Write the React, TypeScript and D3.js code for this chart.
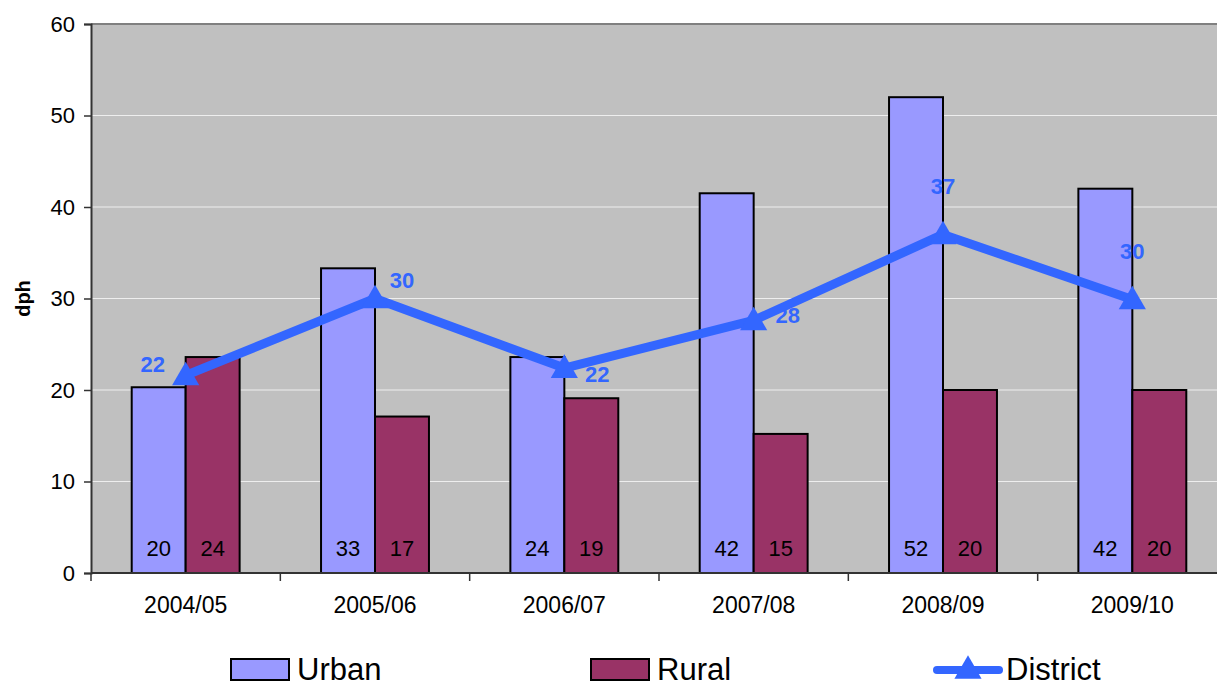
import { useEffect, useRef } from 'react';
import * as d3 from 'd3';

const categories = ['2004/05', '2005/06', '2006/07', '2007/08', '2008/09', '2009/10'];
const urban = [20.3, 33.3, 23.6, 41.5, 52.0, 42.0];
const rural = [23.6, 17.1, 19.1, 15.2, 20.0, 20.0];
const district = [21.6, 30.0, 22.4, 27.6, 37.0, 29.9];
const yTicks = [0, 10, 20, 30, 40, 50, 60];
const seriesNames = ['Urban', 'Rural'];

// where Excel put the District data labels, relative to the point
const districtLabelOffset = [
  [-33, -3], [27, -11], [33, 14], [34, 3], [0, -40], [0, -40],
];

const FONT = 'Liberation Sans, Arial, sans-serif';

const App = () => {
  const svgRef = useRef<SVGSVGElement>(null);

  useEffect(() => {
    const width = 1217;
    const height = 688;
    const margin = { top: 24, right: -10, bottom: 115, left: 91 };

    const svg = d3.select(svgRef.current);
    svg.selectAll('*').remove();
    svg.attr('width', width).attr('height', height);

    const x = d3.scaleBand()
      .domain(categories)
      .range([margin.left, width - margin.right]);

    const xBar = d3.scaleBand()
      .domain(categories)
      .range([margin.left, width - margin.right])
      .paddingInner(0.43)
      .paddingOuter(0.215);

    const xSub = d3.scaleBand()
      .domain(seriesNames)
      .range([0, xBar.bandwidth()]);

    const y = d3.scaleLinear()
      .domain([0, 60])
      .range([height - margin.bottom, margin.top]);

    const color = d3.scaleOrdinal<string, string>()
      .domain(seriesNames)
      .range(['#9999FF', '#993366']);

    // plot background
    svg.append('rect')
      .attr('x', margin.left)
      .attr('y', margin.top)
      .attr('width', width - margin.right - margin.left)
      .attr('height', y(0) - margin.top)
      .attr('fill', '#C0C0C0');

    svg.append('line')
      .attr('x1', margin.left).attr('x2', width)
      .attr('y1', margin.top).attr('y2', margin.top)
      .attr('stroke', '#808080').attr('stroke-width', 2);

    // gridlines
    svg.append('g')
      .selectAll('line')
      .data(yTicks.filter(d => d > 0 && d < 60))
      .join('line')
      .attr('x1', margin.left)
      .attr('x2', width)
      .attr('y1', d => y(d))
      .attr('y2', d => y(d))
      .attr('stroke', '#EEEEEE')
      .attr('stroke-width', 1);

    // bars
    const rows = categories.map((c, i) => ({ c, values: [urban[i], rural[i]] }));
    const groups = svg.append('g')
      .selectAll('g')
      .data(rows)
      .join('g')
      .attr('transform', d => `translate(${xBar(d.c)},0)`);

    groups.selectAll('rect')
      .data(d => d.values.map((v, k) => ({ name: seriesNames[k], v })))
      .join('rect')
      .attr('x', d => xSub(d.name)!)
      .attr('y', d => y(d.v))
      .attr('width', xSub.bandwidth())
      .attr('height', d => y(0) - y(d.v))
      .attr('fill', d => color(d.name))
      .attr('stroke', '#000')
      .attr('stroke-width', 2);

    groups.selectAll('text')
      .data(d => d.values.map((v, k) => ({ name: seriesNames[k], v })))
      .join('text')
      .attr('x', d => xSub(d.name)! + xSub.bandwidth() / 2)
      .attr('y', y(0) - 17)
      .attr('text-anchor', 'middle')
      .attr('font-family', FONT)
      .attr('font-size', 22)
      .attr('fill', '#000')
      .text(d => Math.round(d.v));

    // axes
    const yAxis = svg.append('g')
      .attr('transform', `translate(${margin.left},0)`)
      .call(d3.axisLeft(y).tickValues(yTicks).tickSize(7).tickPadding(9));
    yAxis.select('.domain').attr('stroke', '#333').attr('stroke-width', 2);
    yAxis.selectAll('.tick line').attr('stroke', '#333').attr('stroke-width', 1.5);
    yAxis.selectAll('.tick text')
      .attr('font-family', FONT).attr('font-size', 22).attr('fill', '#000');

    const xAxis = svg.append('g')
      .attr('transform', `translate(0,${y(0)})`)
      .call(d3.axisBottom(x).tickSize(0).tickPadding(24));
    xAxis.select('.domain').remove();
    xAxis.selectAll('.tick text')
      .attr('font-family', FONT).attr('font-size', 23).attr('fill', '#000');

    svg.append('line')
      .attr('x1', margin.left).attr('x2', width)
      .attr('y1', y(0)).attr('y2', y(0))
      .attr('stroke', '#333').attr('stroke-width', 2);

    svg.append('g')
      .selectAll('line')
      .data(categories)
      .join('line')
      .attr('x1', d => x(d)!)
      .attr('x2', d => x(d)!)
      .attr('y1', y(0))
      .attr('y2', y(0) + 8)
      .attr('stroke', '#333')
      .attr('stroke-width', 1.5);

    // y axis title
    svg.append('text')
      .attr('transform', `translate(30,${(y(0) + y(60)) / 2}) rotate(-90)`)
      .attr('text-anchor', 'middle')
      .attr('font-family', FONT)
      .attr('font-weight', 'bold')
      .attr('font-size', 20)
      .text('dph');

    // district line
    const cx = (c: string) => x(c)! + x.bandwidth() / 2;
    const line = d3.line<number>()
      .x((_, i) => cx(categories[i]))
      .y(d => y(d));

    svg.append('path')
      .datum(district)
      .attr('d', line)
      .attr('fill', 'none')
      .attr('stroke', '#3366FF')
      .attr('stroke-width', 9)
      .attr('stroke-linejoin', 'round');

    const tri = d3.symbol().type(d3.symbolTriangle).size(320);
    svg.append('g')
      .selectAll('path')
      .data(district)
      .join('path')
      .attr('d', tri)
      .attr('transform', (d, i) => `translate(${cx(categories[i])},${y(d) + 2})`)
      .attr('fill', '#3366FF');

    svg.append('g')
      .selectAll('text')
      .data(district)
      .join('text')
      .attr('x', (d, i) => cx(categories[i]) + districtLabelOffset[i][0])
      .attr('y', (d, i) => y(d) + districtLabelOffset[i][1])
      .attr('text-anchor', 'middle')
      .attr('font-family', FONT)
      .attr('font-weight', 'bold')
      .attr('font-size', 22)
      .attr('fill', '#3366FF')
      .text(d => Math.round(d));

    // legend
    const legendY = 680;
    const legend = svg.append('g').attr('font-family', FONT).attr('font-size', 31);
    const legendItems = [
      { name: 'Urban', x: 231 },
      { name: 'Rural', x: 591 },
    ];
    legendItems.forEach(it => {
      legend.append('rect')
        .attr('x', it.x).attr('y', legendY - 21)
        .attr('width', 58).attr('height', 21)
        .attr('fill', color(it.name))
        .attr('stroke', '#000').attr('stroke-width', 2);
      legend.append('text')
        .attr('x', it.x + 66).attr('y', legendY)
        .text(it.name);
    });
    legend.append('line')
      .attr('x1', 937).attr('x2', 999)
      .attr('y1', legendY - 10).attr('y2', legendY - 10)
      .attr('stroke', '#3366FF').attr('stroke-width', 8)
      .attr('stroke-linecap', 'round');
    legend.append('path')
      .attr('d', tri)
      .attr('transform', `translate(968,${legendY - 9})`)
      .attr('fill', '#3366FF');
    legend.append('text')
      .attr('x', 1006).attr('y', legendY)
      .text('District');
  }, []);

  return <svg ref={svgRef} style={{ position: 'absolute', left: 0, top: 0 }}></svg>;
};

export default App;
